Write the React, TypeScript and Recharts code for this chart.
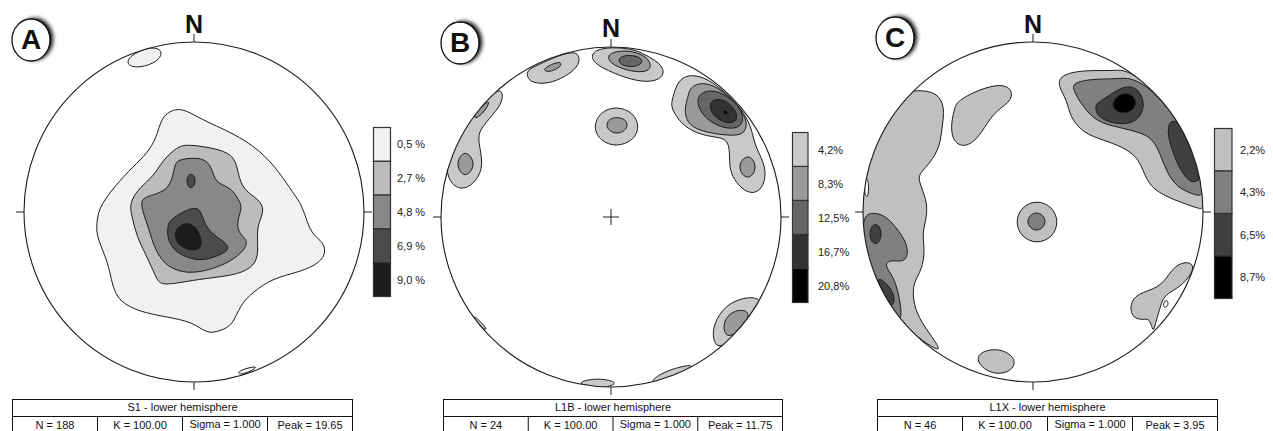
import React from "react";
import { ScatterChart, Scatter, XAxis, YAxis } from "recharts";

// Contour outlines, in net units (primitive radius = 170, north up, east right).
// Each outline is the ordered list of vertices.

// ---- A : S1
const aPatchNorth = [[-67, 151], [-62, 157], [-50, 163], [-37, 165], [-31, 159], [-37, 150], [-54, 144], [-65, 146]];
const aOuter = [
  [-32, 97], [-14, 106], [6, 93], [39, 79], [66, 62], [86, 39], [99, 19], [108, 7], [113, -10], [119, -23],
  [129, -30], [132, -40], [126, -51], [106, -60], [79, -66], [59, -80], [46, -93], [39, -113], [26, -119],
  [13, -122], [-1, -110], [-27, -105], [-54, -100], [-74, -90], [-81, -76], [-84, -60], [-89, -43],
  [-98, -23], [-97, -8], [-94, 7], [-74, 32], [-57, 49], [-44, 62], [-36, 79],
];
const aPatchSouth = [[43, -160], [53, -156], [64, -154], [58, -159], [46, -163]];
const a27 = [
  [-7, 68], [26, 63], [41, 55], [44, 39], [49, 22], [66, 12], [70, 2], [66, -8], [63, -18], [64, -35],
  [63, -51], [49, -61], [26, -65], [-1, -68], [-31, -74], [-37, -68], [-41, -58], [-49, -41], [-57, -25],
  [-62, -5], [-65, 9], [-54, 25], [-41, 35], [-31, 52], [-17, 65],
];
const a48 = [
  [-14, 53], [9, 55], [18, 45], [21, 29], [36, 25], [43, 15], [49, 5], [43, -8], [44, -21], [54, -28],
  [51, -38], [36, -50], [16, -58], [-7, -62], [-27, -55], [-37, -41], [-42, -28], [-47, -11], [-53, 5],
  [-52, 14], [-41, 17], [-27, 22], [-21, 35], [-19, 49],
];
const a69Spot = [[1.5, 31], [0.2, 36], [-3, 38.5], [-6.2, 36], [-7.5, 31], [-6.2, 26], [-3, 23.5], [0.2, 26]];
const a69 = [
  [-24, -8], [-7, 3], [6, 5], [9, -8], [16, -21], [33, -31], [35, -38], [26, -43], [9, -49], [-7, -46],
  [-21, -38], [-27, -25], [-26, -13],
];
const a90 = [[-17, -15], [-7, -10], [2, -15], [7, -25], [8, -36], [-1, -39], [-14, -35], [-20, -25]];

// ---- B : L1B
const bNorth42 = [[-18, 167], [-20, 157], [-9, 149], [14, 139], [37, 134], [52, 139], [53, 149], [44, 157], [31, 164], [21, 168], [1, 170]];
const bNorth83 = [[-4, 160], [1, 152], [21, 145], [37, 145], [41, 152], [34, 162], [17, 167], [1, 165]];
const bNorth125 = [[7, 157], [11, 161], [19, 162], [29, 160], [32, 155], [27, 151], [19, 150], [10, 152]];
const bNW42 = [[-84, 140], [-79, 134], [-63, 133], [-46, 140], [-33, 150], [-31, 160], [-36, 166], [-54, 161], [-73, 152], [-84, 147]];
const bNW83 = [[-68, 147], [-63, 151], [-56, 154], [-50, 155], [-50, 151], [-56, 147], [-63, 145]];
const bCentre42 = [[29, 90], [22, 105], [5, 111], [-11, 105], [-18, 90], [-11, 76], [5, 70], [22, 76]];
const bCentre83 = [[17, 92], [14, 98], [6, 100], [-2, 98], [-5, 92], [-2, 86], [6, 83], [14, 86]];
const bNE42 = [
  [61, 117], [67, 138], [81, 143], [97, 138], [114, 125], [131, 108], [140, 90], [142, 80], [145, 70],
  [150, 60], [155, 47], [153, 31], [144, 23], [133, 26], [123, 37], [118, 50], [119, 70], [114, 79],
  [101, 80], [81, 85], [67, 97], [60, 110],
];
const bNE83 = [[77, 120], [79, 130], [91, 135], [107, 130], [124, 115], [137, 97], [134, 83], [121, 81], [97, 84], [77, 91], [73, 107]];
const bNE125 = [[87, 124], [104, 128], [121, 118], [133, 104], [131, 89], [114, 88], [97, 96], [86, 110]];
const bNE167 = [[101, 118], [114, 118], [125, 107], [127, 96], [117, 93], [104, 99], [98, 110]];
const bNE208 = [[111, 106], [117, 107], [116, 101]];
const bEast83 = [[145, 50], [142, 58], [137, 61], [131, 58], [128, 50], [131, 42], [137, 39], [142, 42]];
const bWest42 = [
  [-109, 130], [-108, 117], [-114, 107], [-129, 90], [-134, 80], [-128, 57], [-131, 40], [-146, 26],
  [-160, 32], [-165, 47], [-162, 60], [-154, 78], [-141, 98], [-124, 119],
];
const bWest83a = [[-121, 117], [-124, 109], [-131, 101], [-137, 98], [-136, 103], [-128, 112]];
const bWest83b = [[-137, 53], [-140, 61], [-146, 65], [-151, 61], [-154, 53], [-151, 45], [-146, 41], [-140, 45]];
const bSE42 = [[146, -81], [134, -80], [114, -88], [102, -108], [102, -123], [107, -131], [118, -125], [132, -110], [143, -95], [149, -84]];
const bSE83 = [[137, -93], [124, -93], [114, -101], [112, -113], [117, -121], [128, -114], [138, -102]];
const bSouth42a = [[-34, -166], [-21, -162], [-6, -162], [8, -166], [-6, -171], [-21, -170]];
const bSouth42b = [[39, -165], [49, -157], [64, -151], [83, -147], [78, -153], [61, -160], [47, -165]];
const bSW42 = [[-138, -98], [-131, -104], [-123, -113], [-128, -112], [-136, -104]];

// ---- C : L1X
const cNE22 = [
  [27, 137], [50, 142], [80, 141], [90, 143], [108, 133], [129, 113], [150, 82], [163, 52], [170, 22],
  [172, 2], [164, 4], [150, 9], [134, 15], [117, 25], [110, 42], [104, 55], [90, 65], [70, 72], [50, 79],
  [37, 95], [34, 112], [25, 126],
];
const cNE43 = [
  [40, 129], [57, 133], [84, 133], [97, 135], [119, 123], [144, 93], [159, 62], [168, 32], [171, 14],
  [157, 19], [144, 25], [134, 39], [127, 59], [120, 72], [110, 79], [84, 85], [64, 90], [50, 105], [40, 122],
];
const cNE65 = [[64, 109], [74, 115], [90, 126], [104, 125], [111, 112], [110, 99], [100, 88], [80, 88], [65, 95], [62, 104]];
const cNE87 = [[83, 116], [94, 120], [104, 113], [101, 101], [87, 98], [78, 105]];
const cEast65 = [[137, 93], [147, 89], [155, 72], [163, 52], [167, 34], [165, 31], [157, 29], [147, 42], [139, 62], [134, 79]];
const cMidW22 = [[-76, 110], [-60, 120], [-36, 128], [-22, 125], [-20, 112], [-36, 102], [-46, 89], [-56, 72], [-70, 64], [-81, 72], [-82, 89], [-78, 105]];
const cWest22 = [
  [-116, 122], [-96, 120], [-88, 105], [-91, 85], [-93, 65], [-103, 49], [-113, 39], [-115, 32], [-106, 12],
  [-106, -5], [-111, -21], [-108, -38], [-111, -58], [-120, -71], [-120, -88], [-115, -105], [-101, -125],
  [-88, -144], [-124, -120], [-148, -90], [-163, -59], [-172, -29], [-173, 2], [-170, 33], [-161, 63],
  [-146, 94], [-125, 120],
];
const cWestGap = [[-166, 36], [-164, 26], [-165, 14], [-168, 16], [-169, 28]];
const cWest43 = [
  [-168, -1], [-155, -1], [-145, -6], [-135, -18], [-126, -31], [-125, -45], [-131, -50], [-141, -48],
  [-148, -51], [-145, -58], [-138, -68], [-133, -88], [-131, -106], [-136, -108], [-153, -79], [-165, -49], [-171, -18],
];
const cWest65a = [[-151.5, -22], [-153, -15], [-157.5, -11], [-162, -15], [-163.5, -22], [-162, -29], [-157.5, -33], [-153, -29]];
const cWest65b = [[-156, -65], [-148, -70], [-141, -78], [-138, -88], [-141, -95], [-146, -89], [-153, -76]];
const cCentre22 = [[26, -10], [19.5, 5.5], [4, 12], [-11.5, 5.5], [-18, -10], [-11.5, -25.5], [4, -32], [19.5, -25.5]];
const cCentre43 = [[13, -9.5], [10, -3], [3.5, 0], [-3, -3], [-6, -9.5], [-3, -16], [3.5, -19], [10, -16]];
const cSouth22 = [[-57, -145], [-48, -138], [-33, -137], [-21, -143], [-17, -152], [-25, -161], [-40, -162], [-52, -155]];
const cSE22 = [
  [150, -50], [159, -51], [161, -58], [150, -73], [137, -80], [130, -86], [127, -96], [122, -113], [120, -121],
  [117, -106], [110, -108], [100, -106], [97, -96], [100, -86], [110, -80], [124, -76], [134, -66], [140, -56],
];
const cSEHole = [[130, -91], [134, -87], [136, -93], [131, -97]];

// contour levels shown in the keys
const levelsA = ["0,5 %", "2,7 %", "4,8 %", "6,9 %", "9,0 %"];
const levelsB = ["4,2%", "8,3%", "12,5%", "16,7%", "20,8%"];
const levelsC = ["2,2%", "4,3%", "6,5%", "8,7%"];

const titles = ["S1 - lower hemisphere", "L1B - lower hemisphere", "L1X - lower hemisphere"];
const statsA = ["N = 188", "K = 100.00", "Sigma = 1.000", "Peak = 19.65"];
const statsB = ["N = 24", "K = 100.00", "Sigma = 1.000", "Peak = 11.75"];
const statsC = ["N = 46", "K = 100.00", "Sigma = 1.000", "Peak = 3.95"];

// outline + level index (-1 = unshaded hole)
type Contour = [number[][], number];

const contoursA: Contour[] = [
  [aPatchNorth, 0], [aOuter, 0], [aPatchSouth, 0],
  [a27, 1], [a48, 2], [a69Spot, 3], [a69, 3], [a90, 4],
];
const contoursB: Contour[] = [
  [bNorth42, 0], [bNW42, 0], [bCentre42, 0], [bNE42, 0], [bWest42, 0], [bSE42, 0], [bSouth42a, 0], [bSouth42b, 0], [bSW42, 0],
  [bNorth83, 1], [bNW83, 1], [bCentre83, 1], [bNE83, 1], [bEast83, 1], [bWest83a, 1], [bWest83b, 1], [bSE83, 1],
  [bNorth125, 2], [bNE125, 2], [bNE167, 3], [bNE208, 4],
];
const contoursC: Contour[] = [
  [cNE22, 0], [cMidW22, 0], [cWest22, 0], [cCentre22, 0], [cSouth22, 0], [cSE22, 0],
  [cWestGap, -1], [cSEHole, -1],
  [cNE43, 1], [cWest43, 1], [cCentre43, 1],
  [cNE65, 2], [cEast65, 2], [cWest65a, 2], [cWest65b, 2],
  [cNE87, 3],
];

const shadesA = ["#f1f1f1", "#bcbcbc", "#888888", "#4b4b4b", "#1c1c1c"];
const shadesB = ["#c9c9c9", "#9a9a9a", "#666666", "#333333", "#000000"];
const shadesC = ["#c0c0c0", "#808080", "#404040", "#000000"];

const FONT = '"Liberation Sans", Arial, Helvetica, sans-serif';
const INK = "#1c1c1c";
const R = 170;

const toXY = (pts: number[][]) => pts.map(([x, y]) => ({ x, y }));
const NoMarker = () => <g />;

function StereoNet({ cx, cy, contours, shades }: { cx: number; cy: number; contours: Contour[]; shades: string[] }) {
  return (
    <div style={{ position: "absolute", left: cx - 180, top: cy - 180, width: 360, height: 360 }}>
      <ScatterChart width={360} height={360} margin={{ top: 0, right: 0, bottom: 0, left: 0 }}>
        <XAxis type="number" dataKey="x" domain={[-180, 180]} allowDataOverflow hide />
        <YAxis type="number" dataKey="y" domain={[-180, 180]} allowDataOverflow hide />
        {contours.map(([pts, level], i) => (
          <Scatter
            key={i}
            data={toXY(pts)}
            fill="none"
            shape={NoMarker}
            line={{ fill: level < 0 ? "#ffffff" : shades[level], stroke: INK, strokeWidth: 1 }}
            lineType="joint"
            lineJointType="basisClosed"
            isAnimationActive={false}
          />
        ))}
      </ScatterChart>
    </div>
  );
}

function Frame({ cx, cy, cross }: { cx: number; cy: number; cross?: boolean }) {
  return (
    <g stroke={INK} strokeWidth={1}>
      <circle cx={cx} cy={cy} r={R + 4.5} fill="none" stroke="#fff" strokeWidth={9} />
      <circle cx={cx} cy={cy} r={R} fill="none" strokeWidth={1.1} />
      <line x1={cx} x2={cx} y1={cy - R} y2={cy - R - 8} />
      <line x1={cx} x2={cx} y1={cy + R} y2={cy + R + 8} />
      <line x1={cx - R} x2={cx - R - 8} y1={cy} y2={cy} />
      <line x1={cx + R} x2={cx + R + 8} y1={cy} y2={cy} />
      {cross && (
        <>
          <line x1={cx - 8} x2={cx + 8} y1={cy} y2={cy} />
          <line x1={cx} x2={cx} y1={cy - 8} y2={cy + 8} />
        </>
      )}
    </g>
  );
}

function Badge({ x, y, letter }: { x: number; y: number; letter: string }) {
  return (
    <g>
      <ellipse cx={x + 4} cy={y - 1} rx={18} ry={21} fill="#000" filter="url(#badgeShadow)" />
      <ellipse cx={x} cy={y} rx={19} ry={21} fill="#fff" stroke="#111" strokeWidth={1.3} />
      <text x={x} y={y + 9} textAnchor="middle" fontSize={28} fontWeight="bold" fill="#111">
        {letter}
      </text>
    </g>
  );
}

function Key({ x, y, w, h, shades, labels, labelX }: { x: number; y: number; w: number; h: number; shades: string[]; labels: string[]; labelX: number }) {
  return (
    <g>
      {shades.map((c, i) => (
        <rect key={i} x={x} y={y + i * h} width={w} height={h} fill={c} stroke="#333" strokeWidth={1.2} />
      ))}
      {labels.map((l, i) => (
        <text key={i} x={labelX} y={y + (i + 0.5) * h + 4} fontSize={11} fill="#222">
          {l}
        </text>
      ))}
    </g>
  );
}

function StatsTable({ x, w, title, cells }: { x: number; w: number; title: string; cells: string[] }) {
  return (
    <g fontSize={11} fill="#111">
      <rect x={x} y={399.5} width={w} height={40} fill="#fff" stroke="#111" />
      <line x1={x} x2={x + w} y1={416.5} y2={416.5} stroke="#111" />
      {[1, 2, 3].map((k) => (
        <line key={k} x1={x + (k * w) / 4} x2={x + (k * w) / 4} y1={416.5} y2={440} stroke="#111" />
      ))}
      <text x={x + w / 2} y={411} textAnchor="middle">
        {title}
      </text>
      {cells.map((c, k) => (
        <text key={k} x={x + ((k + 0.5) * w) / 4} y={k === 2 ? 427.5 : 429} textAnchor="middle">
          {c}
        </text>
      ))}
    </g>
  );
}

export default function App() {
  return (
    <div style={{ position: "absolute", left: 0, top: 0, width: 1273, height: 431, background: "#fff", overflow: "hidden", fontFamily: FONT }}>
      <StereoNet cx={194} cy={212} contours={contoursA} shades={shadesA} />
      <StereoNet cx={611} cy={217} contours={contoursB} shades={shadesB} />
      <StereoNet cx={1033} cy={212} contours={contoursC} shades={shadesC} />
      <svg width={1273} height={431} style={{ position: "absolute", left: 0, top: 0, pointerEvents: "none", fontFamily: FONT }}>
        <defs>
          <filter id="badgeShadow" x="-50%" y="-50%" width="200%" height="200%">
            <feGaussianBlur stdDeviation="2.2" />
          </filter>
        </defs>
        <Frame cx={194} cy={212} />
        <Frame cx={611} cy={217} cross />
        <Frame cx={1033} cy={212} />

        <text x={194} y={33} textAnchor="middle" fontSize={25} fontWeight="bold" fill="#111">N</text>
        <text x={611} y={37} textAnchor="middle" fontSize={25} fontWeight="bold" fill="#111">N</text>
        <text x={1033} y={33} textAnchor="middle" fontSize={25} fontWeight="bold" fill="#111">N</text>

        <Badge x={31} y={40} letter="A" />
        <Badge x={460} y={43} letter="B" />
        <Badge x={895} y={38} letter="C" />

        <Key x={373.5} y={127.5} w={17} h={33.8} shades={shadesA} labels={levelsA} labelX={397} />
        <Key x={792.5} y={132.5} w={15.5} h={34} shades={shadesB} labels={levelsB} labelX={818} />
        <Key x={1214.5} y={128.5} w={17.5} h={42.5} shades={shadesC} labels={levelsC} labelX={1240} />

        <StatsTable x={12.5} w={340} title={titles[0]} cells={statsA} />
        <StatsTable x={443.5} w={339} title={titles[1]} cells={statsB} />
        <StatsTable x={877.5} w={340} title={titles[2]} cells={statsC} />
      </svg>
    </div>
  );
}
